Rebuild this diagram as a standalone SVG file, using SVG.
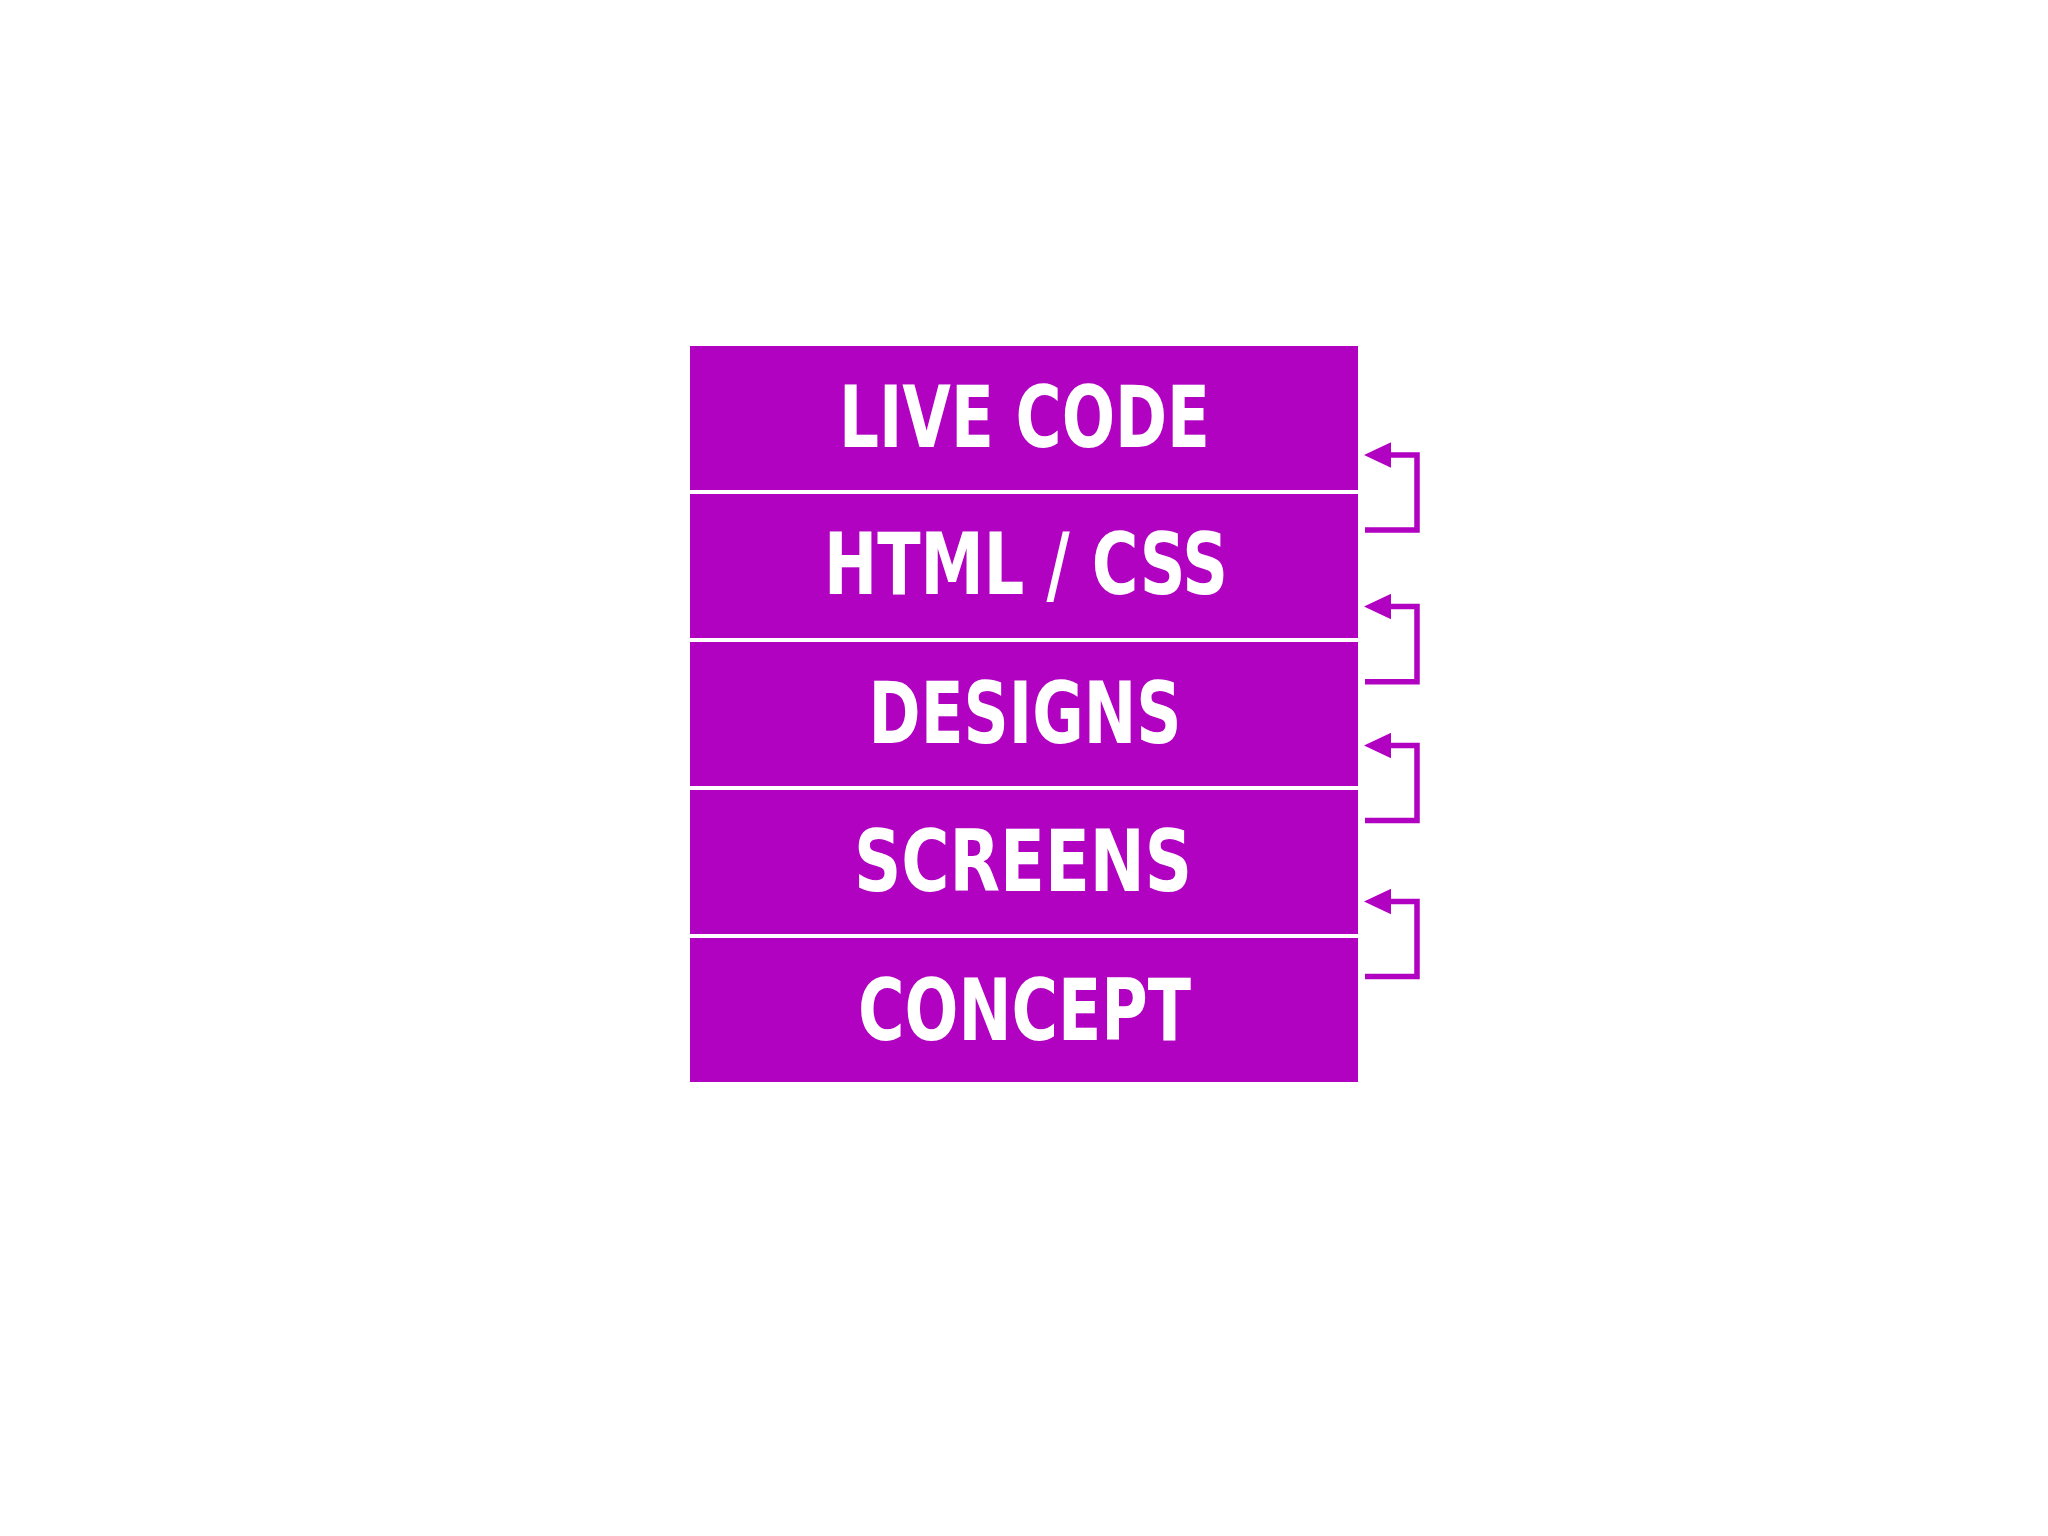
<svg xmlns="http://www.w3.org/2000/svg" width="2048" height="1536" viewBox="0 0 2048 1536">
  <style>
    .box { fill: #B101C1; }
    .label { fill: #FFFFFF; font-family: "DejaVu Sans Condensed", "DejaVu Sans", "Liberation Sans", sans-serif; font-weight: bold; font-size: 86px; text-anchor: middle; }
    .conn { fill: none; stroke: #B101C1; stroke-width: 5.5; stroke-linejoin: miter; }
  </style>
  <defs>
    <marker id="head" markerUnits="userSpaceOnUse" viewBox="-2 -13 28 26" refX="0" refY="0" markerWidth="28" markerHeight="26" orient="auto">
      <path d="M-1,-12.7 L26,0 L-1,12.7 Z" fill="#B101C1"/>
    </marker>
  </defs>
  <rect width="2048" height="1536" fill="#FFFFFF"/>
  <g id="live-code">
    <rect class="box" x="690" y="346" width="668" height="144"/>
    <text class="label" x="1024.5" y="446.7" textLength="371" lengthAdjust="spacingAndGlyphs">LIVE CODE</text>
  </g>
  <g id="html-css">
    <rect class="box" x="690" y="494" width="668" height="144"/>
    <text class="label" x="1026" y="594.3" textLength="404" lengthAdjust="spacingAndGlyphs">HTML / CSS</text>
  </g>
  <g id="designs">
    <rect class="box" x="690" y="642" width="668" height="144"/>
    <text class="label" x="1025" y="743" textLength="313" lengthAdjust="spacingAndGlyphs">DESIGNS</text>
  </g>
  <g id="screens">
    <rect class="box" x="690" y="790" width="668" height="144"/>
    <text class="label" x="1023" y="891" textLength="338" lengthAdjust="spacingAndGlyphs">SCREENS</text>
  </g>
  <g id="concept">
    <rect class="box" x="690" y="938" width="668" height="144"/>
    <text class="label" x="1024.5" y="1039.5" textLength="333" lengthAdjust="spacingAndGlyphs">CONCEPT</text>
  </g>
  <g id="connectors">
    <path class="conn" d="M1365,530 H1417 V455 H1390" marker-end="url(#head)"/>
    <path class="conn" d="M1365,681.7 H1417 V606.5 H1390" marker-end="url(#head)"/>
    <path class="conn" d="M1365,820.5 H1417 V745.5 H1390" marker-end="url(#head)"/>
    <path class="conn" d="M1365,976.5 H1417 V901.5 H1390" marker-end="url(#head)"/>
  </g>
</svg>
